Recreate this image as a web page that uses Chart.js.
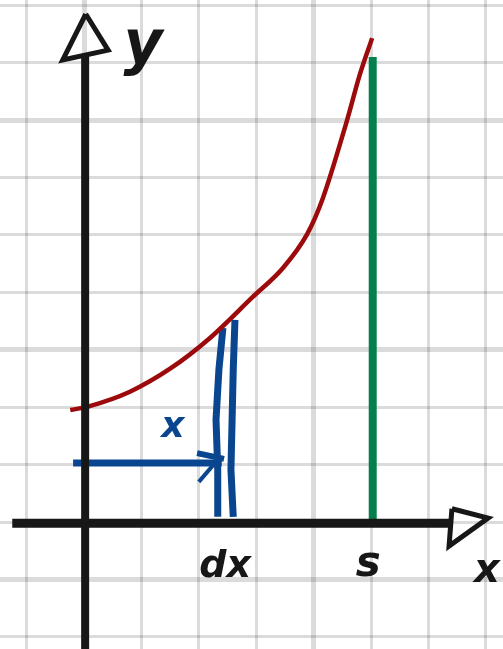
<!DOCTYPE html>
<html>
<head>
<meta charset="utf-8">
<script src="https://cdn.jsdelivr.net/npm/chart.js@4"></script>
<style>
html, body { margin: 0; padding: 0; background: #fff; overflow: hidden; }
#wrap { width: 503px; height: 649px; }
</style>
</head>
<body>
<div id="wrap"><canvas id="myChart" width="503" height="649"></canvas></div>
<script>
// sketch coordinates: one grid square = 1 unit, origin where the axes cross
var gridX = [-1, 0, 1, 2, 3, 4, 5, 6, 7];
var gridY = [-2, -1, 0, 1, 2, 3, 4, 5, 6, 7, 8, 9];

// red curve y(x)
var curveX = [-0.24, 0.10, 0.80, 1.50, 2.20, 2.94, 3.47, 3.89, 4.15, 4.58, 4.81, 5.02];
var curveY = [1.95, 2.02, 2.27, 2.67, 3.21, 3.92, 4.43, 5.02, 5.61, 6.99, 7.81, 8.43];

// blue strip dx (two strokes)
var stripLeftX = [2.42, 2.35, 2.30, 2.33, 2.33];
var stripLeftY = [3.38, 2.65, 1.78, 0.91, 0.09];
var stripRightX = [2.63, 2.60, 2.58, 2.56, 2.60];
var stripRightY = [3.52, 2.65, 1.78, 0.91, 0.09];

// blue arrow for x
var arrowX = [-0.19, 2.40];
var arrowY = [1.03, 1.03];
var arrowBarbTopX = [1.97, 2.44];
var arrowBarbTopY = [1.20, 1.10];
var arrowBarbLowX = [2.00, 2.25];
var arrowBarbLowY = [0.70, 0.99];

// green line at s
var sLineX = [5.03, 5.03];
var sLineY = [0, 8.10];

// axes and arrowheads
var yAxisX = [0.02, 0.02];
var yAxisY = [-2.4, 8.14];
var yHeadX = [0.03, -0.37, 0.42, 0.03];
var yHeadY = [8.85, 8.05, 8.22, 8.85];
var xAxisX = [-1.25, 6.41];
var xAxisY = [-0.02, -0.02];
var xHeadX = [6.41, 7.04, 6.36, 6.41];
var xHeadY = [0.23, 0.07, -0.42, 0.23];

// handwritten labels
var labelText = ['y', 'x', 'dx', 's', 'x'];
var labelX = [1.03, 7.02, 2.46, 4.95, 1.55];
var labelY = [8.26, -0.87, -0.78, -0.75, 1.64];

function pts(xs, ys) {
  return xs.map(function (v, i) { return { x: v, y: ys[i] }; });
}

function stroke(xs, ys, color, width, extra) {
  var ds = {
    data: pts(xs, ys),
    borderColor: color,
    borderWidth: width,
    showLine: true,
    pointRadius: 0,
    fill: false
  };
  for (var k in (extra || {})) ds[k] = extra[k];
  return ds;
}

var black = '#171717';
var red = '#9c0a0c';
var blue = '#0a468f';
var green = '#067f4e';

var labelFont = ['bold italic 60px "DejaVu Sans"', 'bold italic 40px "DejaVu Sans"', 'bold italic 38px "DejaVu Sans"', 'bold italic 42px "DejaVu Sans"', 'bold italic 36px "DejaVu Sans"'];
var labelColor = [black, black, black, black, blue];

var sketchLabels = {
  id: 'sketchLabels',
  afterDatasetsDraw: function (chart) {
    var ctx = chart.ctx, sx = chart.scales.x, sy = chart.scales.y;
    ctx.save();
    ctx.textAlign = 'center';
    ctx.textBaseline = 'middle';
    for (var i = 0; i < labelText.length; i++) {
      ctx.font = labelFont[i];
      ctx.fillStyle = labelColor[i];
      ctx.fillText(labelText[i], sx.getPixelForValue(labelX[i]), sy.getPixelForValue(labelY[i]));
    }
    ctx.restore();
  }
};

var unit = 57.4;
var data = {
  datasets: [
    stroke(yAxisX, yAxisY, black, 8),
    stroke(yHeadX, yHeadY, black, 5, { borderJoinStyle: 'miter' }),
    stroke(xAxisX, xAxisY, black, 9),
    stroke(xHeadX, xHeadY, black, 5, { borderJoinStyle: 'miter' }),
    stroke(curveX, curveY, red, 4.5, { cubicInterpolationMode: 'monotone' }),
    stroke(sLineX, sLineY, green, 8),
    stroke(stripLeftX, stripLeftY, blue, 7),
    stroke(stripRightX, stripRightY, blue, 7),
    stroke(arrowX, arrowY, blue, 7),
    stroke(arrowBarbTopX, arrowBarbTopY, blue, 6),
    stroke(arrowBarbLowX, arrowBarbLowY, blue, 4)
  ]
};

function gridScale(ticks, min, max, thickMod, thickRest) {
  return {
    type: 'linear',
    min: min,
    max: max,
    afterBuildTicks: function (s) { s.ticks = ticks.map(function (v) { return { value: v }; }); },
    ticks: { display: false },
    border: { display: false },
    grid: {
      drawTicks: false,
      color: 'rgba(0,0,0,0.14)',
      lineWidth: function (c) {
        var v = c.tick ? c.tick.value : 0;
        return ((v % thickMod) + thickMod) % thickMod === thickRest ? 5 : 3;
      }
    }
  };
}

var config = {
  type: 'scatter',
  data: data,
  options: {
    responsive: false,
    animation: false,
    layout: { padding: 0 },
    plugins: { legend: { display: false }, tooltip: { enabled: false } },
    scales: {
      x: gridScale(gridX, -84 / unit, (503 - 84) / unit, 4, 0),
      y: gridScale(gridY, (522 - 649) / unit, 522 / unit, 4, 3)
    }
  },
  plugins: [sketchLabels]
};

var myChart = new Chart(document.getElementById('myChart'), config);
</script>
</body>
</html>
